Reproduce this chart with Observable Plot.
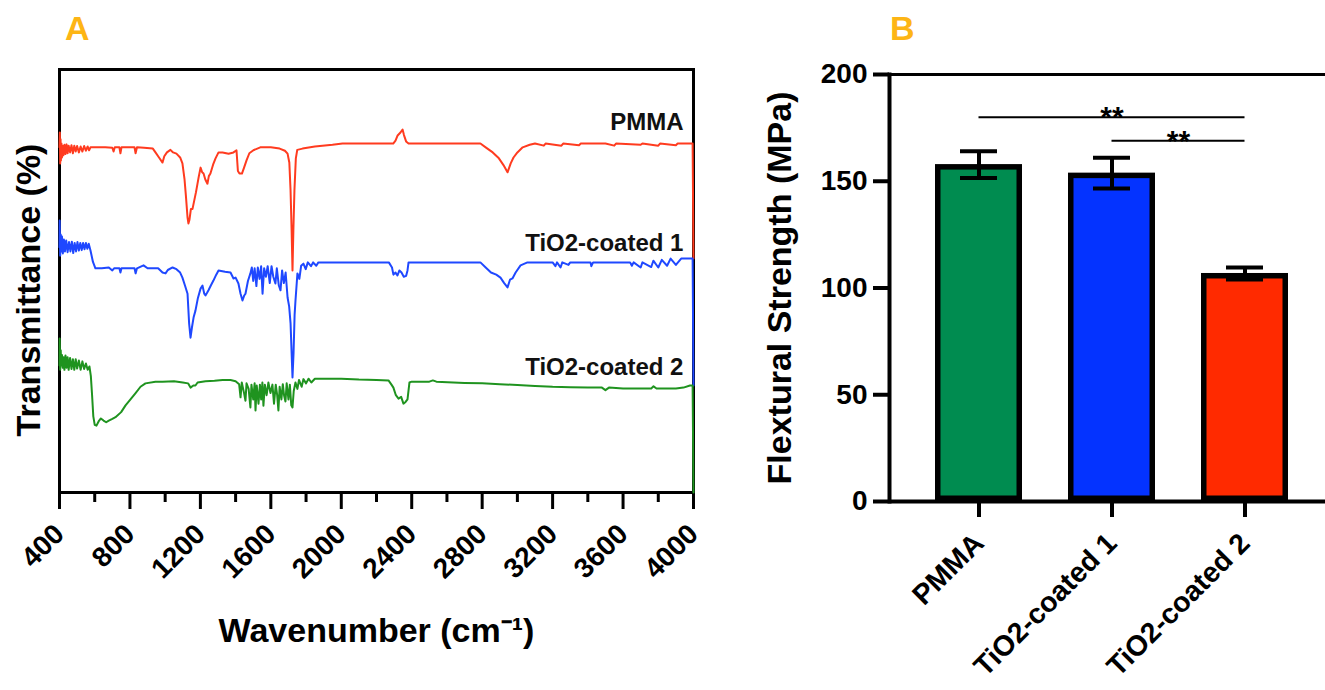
<!DOCTYPE html>
<html><head><meta charset="utf-8">
<script src="https://cdn.jsdelivr.net/npm/d3@7"></script>
<script src="https://cdn.jsdelivr.net/npm/@observablehq/plot@0.6"></script>
<style>
html,body{margin:0;padding:0;background:#fff;}
#root{position:relative;width:1325px;height:690px;overflow:hidden;background:#fff;font-family:'Liberation Sans',Arial,sans-serif;}
.panel{position:absolute;top:0;}
.tag{position:absolute;font-weight:bold;font-size:34px;line-height:1;color:#fdb515;}
</style></head><body>
<div id="root">
  <div id="panelA" class="panel" style="left:0px"></div>
  <div id="panelB" class="panel" style="left:745px"></div>
  <div class="tag" style="left:65px;top:11px">A</div>
  <div class="tag" style="left:890px;top:11px">B</div>
</div>
<script>
// ---------- Panel A: FTIR spectra (wavenumber, transmittance arb. units) ----------
const spectrumPMMA = [[400,81.6],[402,85.1],[404,77.8],[406,83.5],[408,78.5],[411,82.5],[414,79.2],[417,82.0],[422,79.7],[428,82.2],[434,80.0],[440,82.3],[446,80.2],[452,82.0],[460,80.4],[468,82.1],[476,80.2],[484,82.0],[492,80.6],[500,81.9],[510,80.4],[520,81.8],[530,80.6],[540,81.9],[550,80.8],[560,81.8],[568,80.9],[576,81.6],[620,81.6],[660,81.6],[700,81.5],[707,80.6],[714,81.6],[740,81.6],[746,80.2],[752,81.6],[800,81.6],[826,81.6],[832,80.2],[840,81.6],[880,81.5],[930,81.3],[945,80.4],[965,79.2],[985,78.0],[995,79.5],[1010,80.4],[1030,81.0],[1045,80.4],[1064,80.1],[1085,79.2],[1098,77.8],[1110,74.0],[1118,70.0],[1127,65.0],[1132,63.6],[1138,64.5],[1146,67.0],[1155,67.0],[1165,69.0],[1175,71.0],[1190,74.5],[1201,76.8],[1210,75.7],[1218,75.4],[1228,74.0],[1240,73.0],[1248,74.8],[1257,75.4],[1272,77.5],[1286,79.0],[1303,80.4],[1326,80.4],[1360,80.1],[1388,80.4],[1405,80.9],[1413,76.0],[1422,75.4],[1436,75.4],[1448,76.8],[1462,78.5],[1478,80.2],[1501,80.9],[1540,81.6],[1600,81.6],[1650,81.3],[1680,80.8],[1695,80.1],[1705,78.0],[1712,71.4],[1718,62.0],[1723,52.5],[1728,62.0],[1734,71.4],[1742,79.0],[1750,81.0],[1780,81.3],[1850,81.8],[1950,82.2],[2007,82.5],[2100,82.5],[2200,82.5],[2295,82.5],[2308,83.2],[2320,84.4],[2336,85.1],[2348,85.8],[2356,84.5],[2368,83.0],[2382,82.5],[2500,82.5],[2650,82.5],[2790,82.5],[2820,81.6],[2860,80.4],[2895,79.0],[2921,77.4],[2944,75.7],[2962,77.8],[2978,79.2],[3000,80.4],[3030,81.6],[3070,82.2],[3100,82.5],[3150,82.0],[3160,82.5],[3250,82.0],[3260,82.5],[3350,82.1],[3360,82.5],[3500,82.5],[3550,82.0],[3560,82.5],[3700,82.2],[3710,82.5],[3800,82.0],[3810,82.5],[3900,82.1],[3910,82.5],[3995,82.5],[4000,55.3]];

const spectrumTiO2c1 = [[400,58.0],[401,64.3],[404,56.0],[407,61.0],[410,57.0],[414,60.5],[419,56.5],[425,59.8],[431,57.0],[438,59.6],[446,56.8],[454,59.2],[462,57.0],[470,59.3],[478,56.6],[486,59.0],[494,57.0],[502,59.2],[510,57.2],[518,59.0],[526,57.3],[534,59.0],[542,57.5],[550,59.0],[558,57.6],[566,58.8],[576,57.2],[590,54.5],[604,53.0],[640,53.0],[680,53.2],[700,52.5],[710,53.0],[740,53.0],[746,52.0],[752,53.0],[800,53.0],[826,53.0],[832,51.8],[840,53.0],[877,53.7],[900,53.0],[960,53.0],[985,52.0],[1002,51.8],[1015,52.6],[1042,53.2],[1064,52.8],[1085,52.0],[1098,50.8],[1112,49.0],[1127,47.0],[1136,40.0],[1144,36.6],[1152,39.0],[1162,41.5],[1172,43.0],[1186,46.0],[1201,48.2],[1212,48.9],[1222,47.0],[1229,46.6],[1238,47.2],[1246,47.8],[1260,49.0],[1274,50.1],[1290,51.5],[1303,52.5],[1340,52.2],[1371,52.0],[1388,50.6],[1400,50.8],[1416,49.4],[1428,47.0],[1439,45.4],[1448,46.5],[1456,47.0],[1470,50.0],[1484,51.8],[1492,53.2],[1500,50.0],[1508,53.0],[1518,48.8],[1526,53.2],[1536,50.5],[1545,53.5],[1553,47.0],[1562,53.0],[1572,51.0],[1582,53.5],[1594,49.5],[1604,53.5],[1614,51.0],[1626,49.4],[1634,53.0],[1645,49.0],[1655,47.8],[1664,52.5],[1674,49.5],[1684,52.0],[1695,46.1],[1704,44.0],[1712,40.0],[1718,33.0],[1723,27.2],[1729,33.0],[1735,42.0],[1740,45.4],[1751,51.8],[1762,50.5],[1772,53.6],[1785,54.1],[1798,52.8],[1810,54.4],[1828,53.5],[1840,54.4],[1858,53.6],[1870,54.4],[1950,54.4],[2100,54.4],[2270,54.4],[2288,53.2],[2296,51.5],[2308,52.0],[2319,51.3],[2330,52.5],[2342,52.0],[2355,51.0],[2368,51.2],[2376,52.5],[2382,54.4],[2600,54.4],[2790,54.4],[2820,53.2],[2850,52.0],[2880,51.5],[2904,50.8],[2925,49.5],[2944,48.5],[2958,50.3],[2972,50.6],[2990,52.0],[3018,53.7],[3057,54.4],[3200,54.4],[3216,53.5],[3225,54.4],[3245,53.2],[3255,54.4],[3290,53.8],[3300,54.4],[3415,54.4],[3420,53.5],[3430,54.4],[3640,54.4],[3650,53.6],[3660,54.4],[3700,53.2],[3710,54.4],[3760,53.3],[3772,54.8],[3800,53.2],[3820,55.0],[3850,53.6],[3870,55.3],[3900,53.8],[3930,55.3],[3995,55.3],[4000,25.3]];

const spectrumTiO2c2 = [[400,30.0],[401,36.4],[404,29.0],[407,33.6],[410,30.0],[414,32.5],[418,29.5],[423,32.0],[428,29.0],[434,32.4],[440,29.5],[446,32.0],[452,29.0],[460,31.8],[468,29.2],[476,31.5],[484,29.0],[492,31.5],[500,29.3],[510,31.2],[520,29.0],[530,31.0],[540,29.2],[550,30.5],[560,29.0],[570,29.8],[578,27.5],[585,23.0],[592,18.0],[600,16.0],[610,15.8],[622,16.8],[635,17.5],[650,17.0],[665,16.6],[680,17.0],[700,17.4],[718,17.8],[750,19.0],[775,20.6],[803,22.0],[832,23.5],[860,25.0],[888,25.8],[945,26.2],[985,26.2],[1050,26.3],[1100,26.0],[1130,25.8],[1144,24.8],[1160,25.3],[1172,25.3],[1184,26.0],[1229,26.3],[1280,26.4],[1326,26.6],[1371,26.6],[1400,26.3],[1420,25.6],[1428,22.5],[1435,26.0],[1448,23.5],[1456,21.7],[1462,25.8],[1474,24.5],[1484,20.1],[1490,25.5],[1500,22.0],[1508,25.8],[1513,19.4],[1520,25.3],[1530,21.0],[1538,25.5],[1545,22.0],[1552,26.0],[1558,20.5],[1566,25.5],[1576,23.0],[1586,26.0],[1598,23.5],[1609,25.5],[1618,21.0],[1628,25.5],[1636,23.0],[1643,19.4],[1650,25.0],[1660,22.0],[1668,25.6],[1675,23.0],[1683,21.5],[1690,25.8],[1700,22.0],[1708,25.5],[1716,20.6],[1723,20.1],[1730,24.0],[1740,26.0],[1751,24.5],[1760,26.6],[1775,25.0],[1785,26.8],[1800,25.8],[1814,26.9],[1830,26.0],[1850,26.9],[1900,26.9],[2000,26.9],[2100,26.7],[2200,26.6],[2268,26.5],[2285,25.5],[2296,24.8],[2310,23.0],[2325,22.2],[2340,22.6],[2353,21.0],[2365,21.4],[2376,22.0],[2387,26.0],[2400,26.2],[2500,26.2],[2520,26.5],[2540,26.2],[2700,25.9],[2800,25.8],[2900,25.6],[3000,25.4],[3100,25.2],[3200,25.0],[3300,24.9],[3400,24.8],[3480,24.8],[3500,24.2],[3520,24.8],[3600,24.6],[3700,24.6],[3760,24.6],[3773,25.1],[3790,24.6],[3900,24.6],[3943,24.8],[3980,25.3],[3995,25.3],[4000,0]];

const spectraNames = ["PMMA", "TiO2-coated 1", "TiO2-coated 2"];
const spectraColors = ["#ff3b1f", "#1f48ff", "#1f931f"];
const spectraLabelX = [3943, 3943, 3943];
const spectraLabelY = [85.6, 57.2, 27.7];
const xTicksMajor = [400, 800, 1200, 1600, 2000, 2400, 2800, 3200, 3600, 4000];
const xTicksMinor = [600, 1000, 1400, 1800, 2200, 2600, 3000, 3400, 3800];
const xLabelA = "Wavenumber (cm\u207B\u00B9)";
const yLabelA = "Transmittance (%)";

// ---------- Panel B: flexural strength ----------
const groups = ["PMMA", "TiO2-coated 1", "TiO2-coated 2"];
const strengthMean = [157.8, 153.8, 106.8];
const strengthSD = [6.3, 7.2, 2.8];
const barColors = ["#008c50", "#0433ff", "#ff2a00"];
const yTicksB = [0, 50, 100, 150, 200];
const bracketFrom = ["PMMA", "TiO2-coated 1"];
const bracketTo = ["TiO2-coated 2", "TiO2-coated 2"];
const bracketLevel = [180, 169];
const bracketText = ["**", "**"];
const yLabelB = "Flextural Strength (MPa)";

const FONT = "'Liberation Sans', Arial, Helvetica, sans-serif";

// table for lines
const specRows = [];
[spectrumPMMA, spectrumTiO2c1, spectrumTiO2c2].forEach((arr, k) => {
  arr.forEach(([w, t]) => specRows.push({w, t, s: spectraNames[k]}));
});

const plotA = Plot.plot({
  width: 745, height: 690,
  marginLeft: 59, marginRight: 52, marginTop: 69, marginBottom: 198,
  style: {fontFamily: FONT, fontWeight: "bold", fontSize: "28px", color: "#000", background: "transparent"},
  x: {domain: [400, 4000]},
  y: {domain: [0, 100], axis: null},
  color: {domain: spectraNames, range: spectraColors},
  marks: [
    Plot.frame({stroke: "#000", strokeWidth: 3}),
    Plot.axisX(xTicksMinor, {tickSize: 10, strokeWidth: 3, fill: "none", label: null}),
    Plot.axisX(xTicksMajor, {tickSize: 17, strokeWidth: 3, tickRotate: -45, tickPadding: 20, tickFormat: "d", label: null, fontSize: 28}),
    Plot.line(specRows, {x: "w", y: "t", z: "s", stroke: "s", strokeWidth: 2}),
    Plot.text(spectraNames, {x: spectraLabelX, y: spectraLabelY, text: d => d, textAnchor: "end", lineAnchor: "bottom", fontSize: 24, fontWeight: "bold", fill: "#111"}),
    Plot.text([xLabelA], {frameAnchor: "bottom", text: d => d, textAnchor: "middle", lineAnchor: "bottom", dy: 149, fontSize: 34, fontWeight: "bold"}),
    Plot.text([yLabelA], {frameAnchor: "left", text: d => d, rotate: -90, textAnchor: "middle", lineAnchor: "top", dx: -44, dy: 9, fontSize: 34, fontWeight: "bold"})
  ]
});
document.getElementById("panelA").appendChild(plotA);

// Panel B
const barRows = groups.map((g, i) => ({g, m: strengthMean[i], lo: strengthMean[i] - strengthSD[i], hi: strengthMean[i] + strengthSD[i]}));
const brRows = bracketLevel.map((v, i) => ({from: bracketFrom[i], to: bracketTo[i], v, t: bracketText[i]}));
const STEP = 133, BW = 87, SW = 5.5;

const plotB = Plot.plot({
  width: 580, height: 690,
  marginLeft: 144, marginRight: 0, marginTop: 74, marginBottom: 189,
  style: {fontFamily: FONT, fontWeight: "bold", fontSize: "28px", color: "#000", background: "transparent"},
  x: {domain: groups, paddingInner: 0.346, paddingOuter: 0.312, align: 0.557},
  y: {domain: [0, 200]},
  color: {domain: groups, range: barColors},
  marks: [
    Plot.barY(barRows, {x: "g", y: "m", fill: "g", stroke: "#000", strokeWidth: SW, inset: SW / 2}),
    Plot.ruleX(barRows, {x: "g", y1: "lo", y2: "hi", stroke: "#000", strokeWidth: 4}),
    Plot.tickY(barRows, {x: "g", y: "hi", stroke: "#000", strokeWidth: 4, insetLeft: 25, insetRight: 25}),
    Plot.tickY(barRows, {x: "g", y: "lo", stroke: "#000", strokeWidth: 4, insetLeft: 25, insetRight: 25}),
    Plot.frame({anchor: "top", stroke: "#000", strokeWidth: 3}),
    Plot.frame({anchor: "left", stroke: "#000", strokeWidth: 4}),
    Plot.ruleY([0], {stroke: "#000", strokeWidth: 4}),
    Plot.axisY(yTicksB, {tickSize: 16, strokeWidth: 4, tickPadding: 6, label: null, fontSize: 28}),
    Plot.axisX({tickSize: 16, strokeWidth: 4, tickRotate: -45, tickPadding: 21, label: null, fontSize: 28.5}),
    Plot.ruleY(brRows, {y: "v", x1: "from", x2: "to", insetLeft: BW / 2, insetRight: BW / 2, stroke: "#000", strokeWidth: 2}),
    Plot.text(brRows, {filter: (d, i) => i === 0, x: "to", y: "v", text: "t", dx: -STEP, dy: 10, lineAnchor: "bottom", fontSize: 30, fontWeight: "bold"}),
    Plot.text(brRows, {filter: (d, i) => i === 1, x: "to", y: "v", text: "t", dx: -STEP / 2, dy: 10, lineAnchor: "bottom", fontSize: 30, fontWeight: "bold"}),
    Plot.text([yLabelB], {frameAnchor: "left", text: d => d, rotate: -90, textAnchor: "middle", lineAnchor: "top", dx: -123, fontSize: 34, fontWeight: "bold"})
  ]
});
document.getElementById("panelB").appendChild(plotB);
</script>
</body></html>
